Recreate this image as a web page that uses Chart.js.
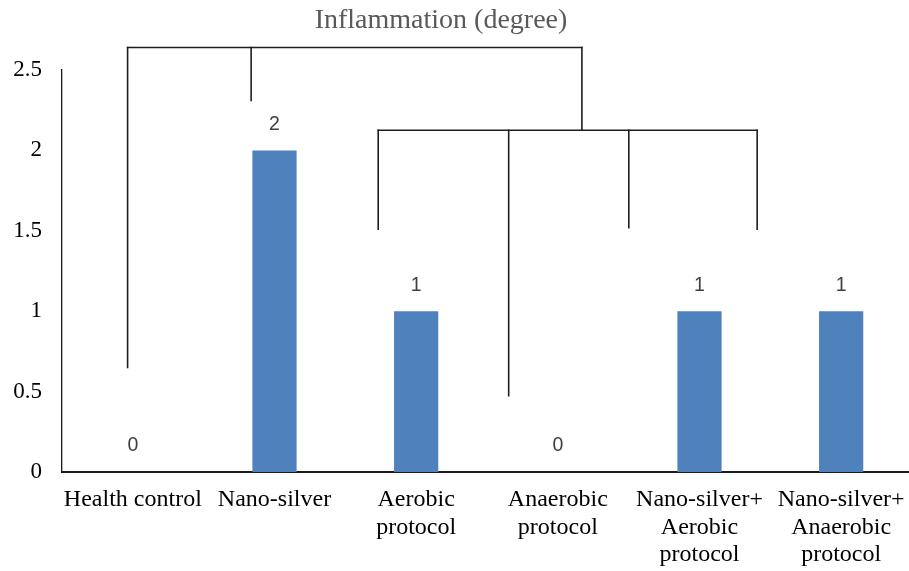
<!DOCTYPE html>
<html>
<head>
<meta charset="utf-8">
<script src="https://cdn.jsdelivr.net/npm/chart.js@4.4.1/dist/chart.umd.min.js"></script>
<style>
  html, body { margin: 0; padding: 0; background: #ffffff; overflow: hidden; }
  #wrap { width: 909px; height: 571px; position: relative; overflow: hidden; }
</style>
</head>
<body>
<div id="wrap"><canvas id="c" width="912" height="571"></canvas></div>
<script>
// ---- data ----
const chartTitle = "Inflammation (degree)";
const categories = [
  ["Health control"],
  ["Nano-silver"],
  ["Aerobic", "protocol"],
  ["Anaerobic", "protocol"],
  ["Nano-silver+", "Aerobic", "protocol"],
  ["Nano-silver+", "Anaerobic", "protocol"]
];
const inflammationValues = [0, 2, 1, 0, 1, 1];
const yTicks = [0, 0.5, 1, 1.5, 2, 2.5];

// significance brackets, in data units (x: category index, y: value)
const bracketLinesX = [
  // [x1, y1, x2, y2]
  [-0.037, 2.64, 3.17, 2.64],
  [-0.037, 2.64, -0.037, 0.65],
  [0.835, 2.64, 0.835, 2.31],
  [3.17, 2.64, 3.17, 2.125],
  [1.732, 2.125, 4.407, 2.125],
  [1.732, 2.125, 1.732, 1.51],
  [2.653, 2.125, 2.653, 0.475],
  [3.501, 2.125, 3.501, 1.52],
  [4.407, 2.125, 4.407, 1.51]
];

const titlePlugin = {
  id: 'customTitle',
  afterDraw(chart) {
    const ctx = chart.ctx;
    ctx.save();
    ctx.font = '28px "Liberation Serif", "Times New Roman", serif';
    ctx.fillStyle = '#595959';
    ctx.textAlign = 'center';
    ctx.textBaseline = 'alphabetic';
    ctx.fillText(chartTitle, 441, 28);
    ctx.restore();
  }
};

const bracketPlugin = {
  id: 'brackets',
  afterDatasetsDraw(chart) {
    const ctx = chart.ctx;
    const xs = chart.scales.x, ys = chart.scales.y;
    const step = xs.getPixelForValue(1) - xs.getPixelForValue(0);
    const px = v => xs.getPixelForValue(0) + v * step;
    ctx.save();
    ctx.strokeStyle = '#1e1e1e';
    ctx.lineWidth = 1.6;
    ctx.lineCap = 'square';
    bracketLinesX.forEach(l => {
      ctx.beginPath();
      ctx.moveTo(px(l[0]), ys.getPixelForValue(l[1]));
      ctx.lineTo(px(l[2]), ys.getPixelForValue(l[3]));
      ctx.stroke();
    });
    ctx.restore();
  }
};

const labelPlugin = {
  id: 'valueLabels',
  afterDatasetsDraw(chart) {
    const ctx = chart.ctx;
    const meta = chart.getDatasetMeta(0);
    ctx.save();
    ctx.font = '19.5px "Liberation Sans", Arial, sans-serif';
    ctx.fillStyle = '#404040';
    ctx.textAlign = 'center';
    ctx.textBaseline = 'middle';
    meta.data.forEach((bar, i) => {
      ctx.fillText(String(chart.data.datasets[0].data[i]), bar.x, bar.y - 26);
    });
    ctx.restore();
  }
};

new Chart(document.getElementById('c'), {
  type: 'bar',
  data: {
    labels: categories,
    datasets: [{
      data: inflammationValues,
      backgroundColor: '#4F81BD',
      borderWidth: 0,
      barPercentage: 0.312,
      categoryPercentage: 1.0
    }]
  },
  options: {
    responsive: false,
    animation: false,
    layout: { padding: { top: 70, right: 0, left: 0, bottom: 0 } },
    plugins: {
      legend: { display: false },
      title: { display: false },
      tooltip: { enabled: false }
    },
    scales: {
      x: {
        grid: { display: false, drawTicks: false },
        border: { display: true, color: '#1a1a1a', width: 2 },
        ticks: {
          color: '#000000',
          padding: 14,
          maxRotation: 0,
          autoSkip: false,
          font: { family: '"Liberation Serif", "Times New Roman", serif', size: 24, lineHeight: 1.15 }
        },
        afterFit(scale) {
          scale.height = 99;
          scale.paddingLeft = 0;
          scale.paddingRight = 0;
        }
      },
      y: {
        min: 0,
        max: 2.5,
        afterBuildTicks(scale) { scale.ticks = yTicks.map(v => ({ value: v })); },
        grid: { display: false, drawTicks: false },
        border: { display: true, color: '#1a1a1a', width: 1.3 },
        ticks: {
          color: '#000000',
          padding: 20,
          font: { family: '"Liberation Serif", "Times New Roman", serif', size: 23 },
          callback: v => String(v)
        },
        afterFit(scale) { scale.width = 62; }
      }
    }
  },
  plugins: [titlePlugin, bracketPlugin, labelPlugin]
});
</script>
</body>
</html>
